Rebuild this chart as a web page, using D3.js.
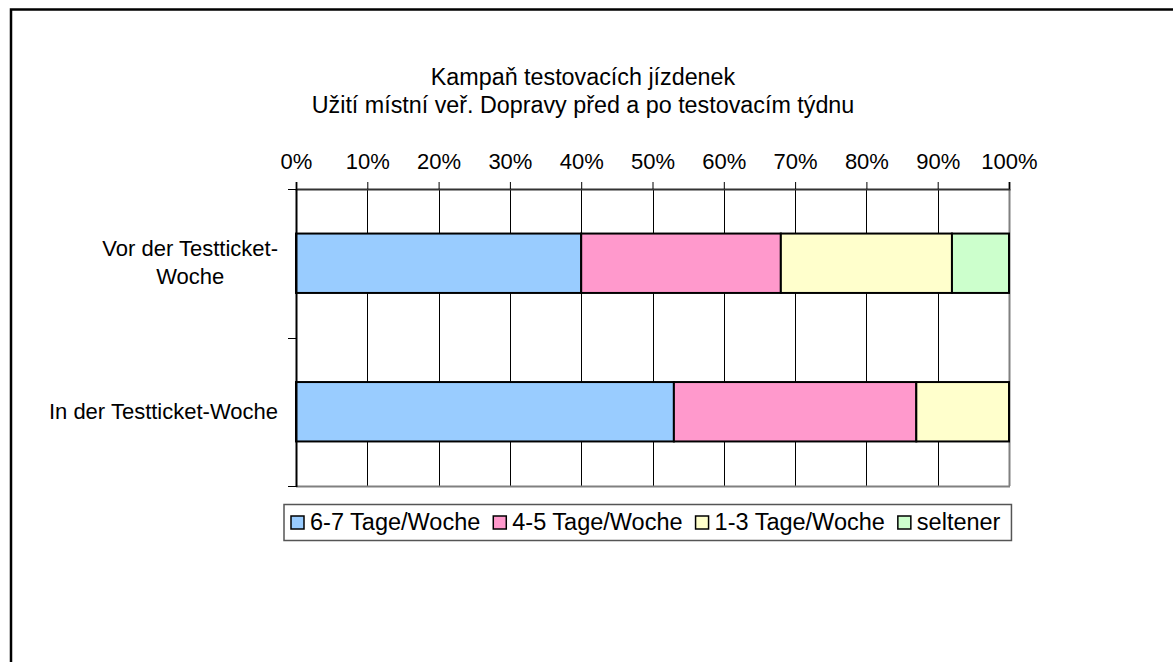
<!DOCTYPE html>
<html>
<head>
<meta charset="utf-8">
<script src="https://cdn.jsdelivr.net/npm/d3@7"></script>
<style>
body { margin:0; background:#fff; }
text { font-family: "Liberation Sans", Arial, sans-serif; font-size:22px; fill:#000; }
</style>
</head>
<body>
<script>
var categories = ['Vor der Testticket-Woche', 'In der Testticket-Woche'];
var catLines = [['Vor der Testticket-', 'Woche'], ['In der Testticket-Woche']];
var series = ['6-7 Tage/Woche', '4-5 Tage/Woche', '1-3 Tage/Woche', 'seltener'];
var colors = ['#99ccff', '#ff99cc', '#ffffcc', '#ccffcc'];
// percent per category, in series order
var values = [
  [40, 28, 24, 8]
, [53, 34, 13, 0]
];
var ticks = [0, 10, 20, 30, 40, 50, 60, 70, 80, 90, 100];
var titleLines = ['Kampaň testovacích jízdenek', 'Užití místní veř. Dopravy před a po testovacím týdnu'];

var params = {
  width:1173
, height:662
, left:296
, right:1009
, top:189
, bottom:486
};

var svg = d3.select('body').append('svg')
  .attr('width', params.width)
  .attr('height', params.height);

// outer chart frame (runs off the page right and bottom)
svg.append('rect')
  .attr('x', 11).attr('y', 9.5)
  .attr('width', 1300).attr('height', 800)
  .attr('fill', '#fff')
  .attr('stroke', '#000')
  .attr('stroke-width', 2.5);

svg.selectAll('.title').data(titleLines).enter().append('text')
  .attr('class', 'title')
  .attr('x', 583)
  .attr('y', function(d, i) { return 85 + i * 28; })
  .attr('text-anchor', 'middle')
  .style('font-size', '23.3px')
  .text(function(d) { return d; });

var x = d3.scaleLinear().domain([0, 100]).range([params.left, params.right]);
var y = d3.scaleBand().domain(categories).range([params.top, params.bottom])
  .paddingInner(0.6).paddingOuter(0.3);
var yb = d3.scaleBand().domain(categories).range([params.top, params.bottom]);

// gridlines
svg.append('g').selectAll('line').data(ticks.slice(1, -1)).enter().append('line')
  .attr('x1', function(d) { return Math.round(x(d)) + 0.5; })
  .attr('x2', function(d) { return Math.round(x(d)) + 0.5; })
  .attr('y1', params.top).attr('y2', params.bottom)
  .attr('stroke', '#000').attr('stroke-width', 1);

// plot border right/bottom
svg.append('line')
  .attr('x1', params.right + 0.5).attr('x2', params.right + 0.5)
  .attr('y1', params.top).attr('y2', params.bottom)
  .attr('stroke', '#808080').attr('stroke-width', 2);
svg.append('line')
  .attr('x1', params.left).attr('x2', params.right + 1)
  .attr('y1', params.bottom + 0.5).attr('y2', params.bottom + 0.5)
  .attr('stroke', '#808080').attr('stroke-width', 2);

// bars
var rows = svg.append('g').selectAll('g').data(values).enter().append('g');
rows.selectAll('rect')
  .data(function(d, i) {
    var acc = 0;
    return d.map(function(v, j) {
      var s = { cat: categories[i], x0: acc, x1: acc + v, color: colors[j] };
      acc += v;
      return s;
    }).filter(function(s) { return s.x1 > s.x0; });
  })
  .enter().append('rect')
  .attr('x', function(d) { return x(d.x0); })
  .attr('width', function(d) { return x(d.x1) - x(d.x0); })
  .attr('y', function(d) { return y(d.cat); })
  .attr('height', y.bandwidth())
  .attr('fill', function(d) { return d.color; })
  .attr('stroke', '#000')
  .attr('stroke-width', 2);

// top value axis
var xAxis = svg.append('g')
  .attr('transform', 'translate(0,' + params.top + ')')
  .call(d3.axisTop(x).tickValues(ticks).tickSize(7).tickPadding(13)
    .tickFormat(function(d) { return d + '%'; }));
xAxis.select('.domain').attr('stroke', '#333').attr('stroke-width', 2);
xAxis.selectAll('.tick line').attr('stroke', '#000');
xAxis.selectAll('text').attr('font-size', '22px').attr('font-family', '"Liberation Sans", Arial, sans-serif');

// left category axis
svg.append('line')
  .attr('x1', params.left + 0.5).attr('x2', params.left + 0.5)
  .attr('y1', params.top).attr('y2', params.bottom + 1)
  .attr('stroke', '#000').attr('stroke-width', 2);
var edges = categories.map(function(c) { return yb(c); }).concat([params.bottom]);
svg.append('g').selectAll('line').data(edges).enter().append('line')
  .attr('x1', params.left - 8).attr('x2', params.left)
  .attr('y1', function(d) { return Math.round(d) + 0.5; })
  .attr('y2', function(d) { return Math.round(d) + 0.5; })
  .attr('stroke', '#000').attr('stroke-width', 1);

// category labels: block right edge at 278, lines centred within it
catLines.forEach(function(lines, i) {
  var g = svg.append('g');
  var n = lines.length;
  var cy = y(categories[i]) + y.bandwidth() / 2;
  var t = g.selectAll('text').data(lines).enter().append('text')
    .attr('y', function(d, k) { return cy + 7 + (k - (n - 1) / 2) * 28; })
    .text(function(d) { return d; });
  var w = 0;
  t.each(function() { w = Math.max(w, this.getComputedTextLength()); });
  t.attr('x', 278 - w / 2).attr('text-anchor', 'middle');
});

// legend
var legend = svg.append('g');
var lbox = legend.append('rect')
  .attr('x', 284).attr('y', 504.5)
  .attr('height', 36)
  .attr('fill', '#fff')
  .attr('stroke', '#555')
  .attr('stroke-width', 1.5);
var lx = 291;
series.forEach(function(s, i) {
  legend.append('rect')
    .attr('x', lx).attr('y', 516)
    .attr('width', 13).attr('height', 13)
    .attr('fill', colors[i])
    .attr('stroke', '#000').attr('stroke-width', 1.5);
  var t = legend.append('text')
    .attr('x', lx + 19).attr('y', 530)
    .style('font-size', '23.5px')
    .text(s);
  lx += 19 + t.node().getComputedTextLength() + 13;
});
lbox.attr('width', lx - 284 - 2);
</script>
</body>
</html>
